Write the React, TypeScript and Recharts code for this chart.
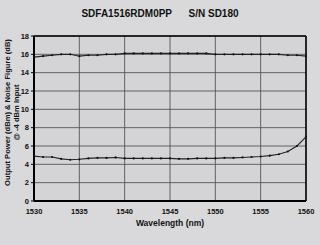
import React from "react";
import {
  LineChart, Line, XAxis, YAxis, CartesianGrid, Label, ReferenceLine
} from "recharts";

// wavelength, 1 nm steps
const WAVELENGTHS = [
  1530, 1531, 1532, 1533, 1534, 1535, 1536, 1537, 1538, 1539, 1540,
  1541, 1542, 1543, 1544, 1545, 1546, 1547, 1548, 1549, 1550,
  1551, 1552, 1553, 1554, 1555, 1556, 1557, 1558, 1559, 1560,
];

// output power (dBm) @ -4 dBm input
const OUTPUT_POWER = [
  15.7, 15.8, 15.9, 16.0, 16.0, 15.8, 15.9, 15.9, 16.0, 16.0, 16.1,
  16.1, 16.1, 16.1, 16.1, 16.1, 16.1, 16.1, 16.1, 16.1, 16.0,
  16.0, 16.0, 16.0, 16.0, 16.0, 16.0, 16.0, 15.9, 15.9, 15.8,
];

// noise figure (dB)
const NOISE_FIGURE = [
  4.9, 4.8, 4.8, 4.6, 4.5, 4.55, 4.65, 4.7, 4.7, 4.75, 4.65,
  4.65, 4.65, 4.65, 4.65, 4.65, 4.6, 4.6, 4.65, 4.65, 4.65,
  4.7, 4.7, 4.75, 4.8, 4.85, 4.95, 5.1, 5.4, 6.0, 7.0,
];

const X_TICKS = [1530, 1535, 1540, 1545, 1550, 1555, 1560];
const Y_TICKS = [0, 2, 4, 6, 8, 10, 12, 14, 16, 18];

const data = WAVELENGTHS.map((w, i) => ({
  wavelength: w,
  power: OUTPUT_POWER[i],
  nf: NOISE_FIGURE[i],
}));

const FONT = "'Liberation Sans', Arial, sans-serif";
const tickStyle = { fill: "#111", fontSize: 7.5, fontWeight: 700, fontFamily: FONT };

const YAxisTitle = (props: any) => {
  const vb = props.viewBox || {};
  const cy = vb.y + vb.height / 2 - 6;
  return (
    <g fontFamily={FONT} fontWeight={700} fill="#111" textAnchor="middle">
      <text x={7} y={cy} fontSize={7.6} transform={`rotate(-90 7 ${cy})`} dominantBaseline="central">
        Output Power (dBm) &amp; Noise Figure (dB)
      </text>
      <text x={16} y={cy} fontSize={7.6} transform={`rotate(-90 16 ${cy})`} dominantBaseline="central">
        @ -4 dBm Input
      </text>
    </g>
  );
};

export default function App() {
  return (
    <div style={{ position: "absolute", left: 0, top: 0, width: 320, height: 245, background: "#d9d9db" }}>
      <div
        style={{
          position: "absolute", top: 8, left: 0, width: 320, textAlign: "center",
          fontFamily: FONT, fontWeight: 700, fontSize: 10, color: "#111", whiteSpace: "pre",
        }}
      >
        {"SDFA1516RDM0PP      S/N SD180"}
      </div>
      <LineChart
        width={320}
        height={245}
        data={data}
        margin={{ top: 36, right: 14, bottom: 0, left: 0 }}
      >
        <CartesianGrid stroke="#555" strokeWidth={0.9} fill="#d4d4d6" />
        <XAxis
          dataKey="wavelength"
          type="number"
          domain={[1530, 1560]}
          ticks={X_TICKS}
          tick={tickStyle}
          tickLine={false}
          axisLine={{ stroke: "#000", strokeWidth: 2 }}
          height={44}
          tickMargin={2}
        >
          <Label
            value="Wavelength (nm)"
            position="insideBottom"
            offset={19}
            style={{ fill: "#111", fontSize: 8.5, fontWeight: 700, fontFamily: FONT }}
          />
        </XAxis>
        <YAxis
          type="number"
          domain={[0, 18]}
          ticks={Y_TICKS}
          tick={tickStyle}
          tickSize={3}
          tickLine={{ stroke: "#000" }}
          axisLine={{ stroke: "#000", strokeWidth: 2 }}
          width={34}
          interval={0}
        >
          <Label content={<YAxisTitle />} />
        </YAxis>
        <ReferenceLine y={18} stroke="#000" strokeWidth={1.5} />
        <ReferenceLine x={1560} stroke="#000" strokeWidth={1.5} />
        <Line
          dataKey="power"
          type="linear"
          stroke="#222"
          strokeWidth={1.1}
          dot={{ r: 1.1, fill: "#111", stroke: "none" }}
          isAnimationActive={false}
        />
        <Line
          dataKey="nf"
          type="linear"
          stroke="#222"
          strokeWidth={1.1}
          dot={{ r: 1.1, fill: "#111", stroke: "none" }}
          isAnimationActive={false}
        />
      </LineChart>
    </div>
  );
}
